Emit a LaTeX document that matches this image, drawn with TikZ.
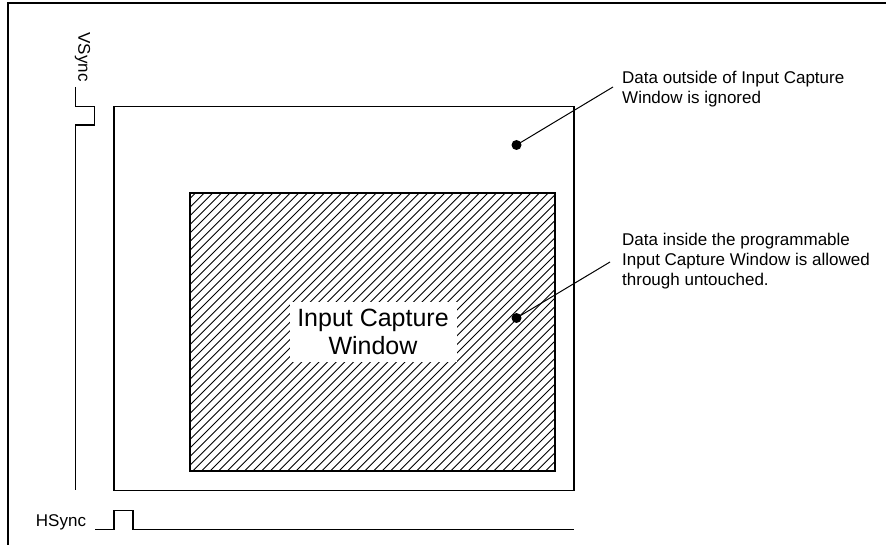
\documentclass[tikz,border=0pt]{standalone}
\usepackage{fontspec}
\setmainfont{Liberation Sans}
\begin{document}
\begin{tikzpicture}[x=1pt,y=-1pt,
  wire/.style={line width=1.3pt},
  frameline/.style={line width=2.6pt},
  hatchline/.style={line width=0.9pt},
  lbl/.style={font=\fontsize{17}{20}\selectfont, inner sep=0pt, align=left},
  siglbl/.style={font=\fontsize{17}{20}\selectfont, inner sep=0pt},
  dotmark/.style={circle, fill=black, inner sep=0pt, minimum size=10pt}]
\useasboundingbox (0,0) rectangle (886,545);

% page frame (top and left edges)
\draw[frameline] (8,545) -- (8,3) -- (886,3);

% full frame area
\draw[wire] (114,106.5) rectangle (574,490.5);

% hatched capture window
\begin{scope}
  \clip (190,193) rectangle (555,471);
  \foreach \c in {380,388.6,...,1040}
    \draw[hatchline] (\c-480,480) -- (\c-180,180);
\end{scope}
\draw[wire] (190,193) rectangle (555,471);

% window caption on white
\node[fill=white, inner sep=0pt, minimum width=167pt, minimum height=60pt,
      align=center, font=\fontsize{25}{28}\selectfont] (icw) at (373,332)
      {Input Capture\\Window};

% VSync waveform
\node[siglbl, rotate=-90] (vs) at (82.5,57) {VSync};
\draw[wire] (75.5,87) -- (75.5,106.5) -- (94.5,106.5) -- (94.5,125) -- (75.5,125) -- (75.5,490);

% HSync waveform
\node[siglbl, anchor=base] (hs) at (61,526) {HSync};
\draw[wire] (95,529.5) -- (114,529.5) -- (114,510.5) -- (133,510.5) -- (133,529.5) -- (574,529.5);

% callouts (base anchor sits on the last line of each label)
\node[dotmark] (d1) at (516.5,145) {};
\node[dotmark] (d2) at (516.5,318) {};
\node[lbl, anchor=base west] (t1) at (622,104)
  {Data outside of Input Capture\\Window is ignored};
\node[lbl, anchor=base west] (t2) at (622,286)
  {Data inside the programmable\\Input Capture Window is allowed\\through untouched.};
\coordinate (e1) at (613,87);
\coordinate (e2) at (610,262);
\draw[line width=1pt] (d1.center) -- (e1);
\draw[line width=1pt] (d2.center) -- (e2);
\end{tikzpicture}
\end{document}
